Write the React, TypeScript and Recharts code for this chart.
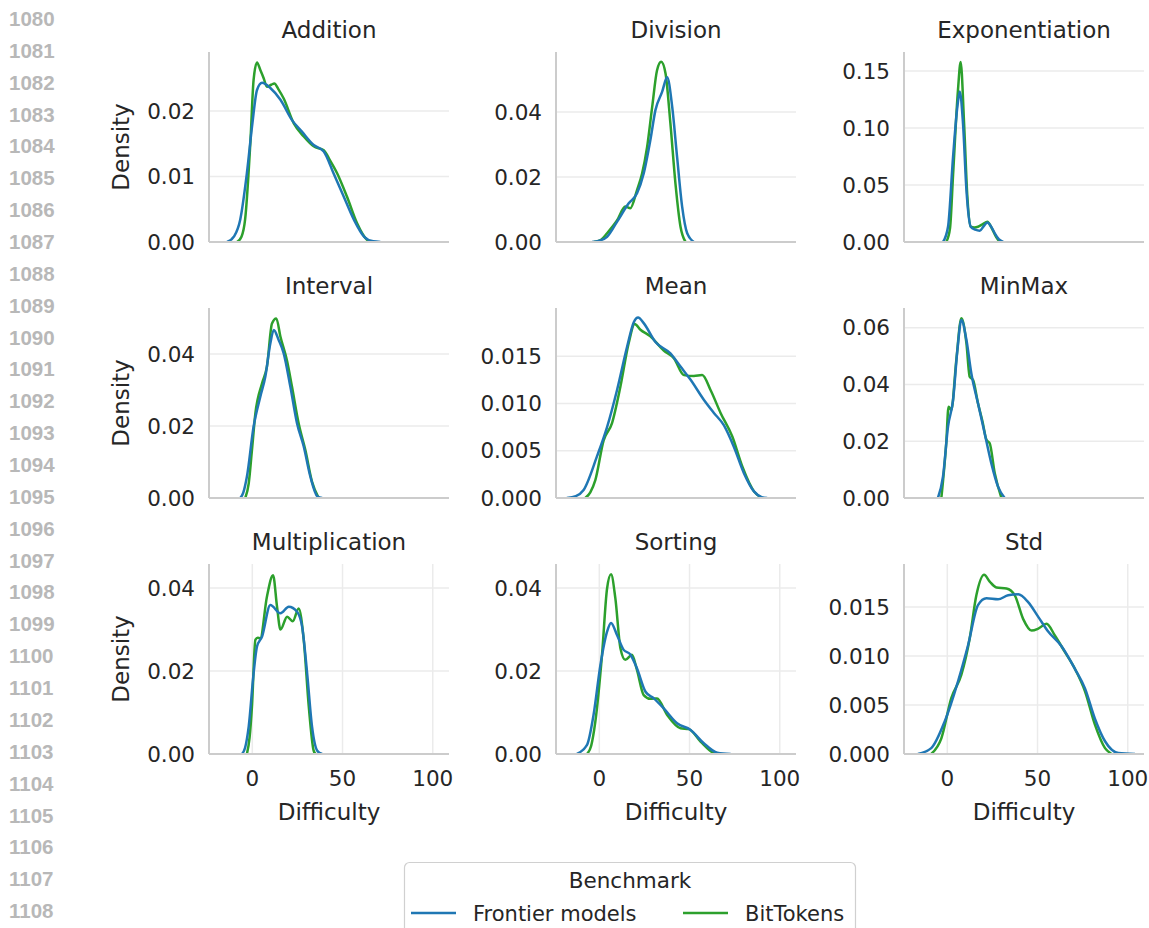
import React from "react";
import { LineChart, Line, XAxis, YAxis, CartesianGrid } from "recharts";

type Pt = [number, number];

// ---- data (x = Difficulty, y = Density) ----
const additionFrontier: Pt[] = [[-14,0],[-10,0.0009],[-6.7,0.0034],[-3,0.0105],[0,0.018],[2.6,0.0232],[5.4,0.0243],[10,0.0235],[15.6,0.0217],[22,0.0186],[27.6,0.0168],[34,0.0148],[39.6,0.0138],[45,0.0105],[50.7,0.0069],[56.3,0.0034],[62,0.0008],[67,0.0001],[71,0]];
const additionBit: Pt[] = [[-8.5,0],[-6,0.0008],[-4,0.0034],[-1,0.0156],[0.7,0.0247],[2.6,0.0274],[4.5,0.0262],[6.3,0.025],[8.1,0.0237],[10.5,0.024],[12.2,0.0242],[14.5,0.0233],[17.4,0.0219],[23,0.0181],[28.5,0.0161],[34,0.0146],[39.6,0.014],[43,0.0125],[47,0.0105],[52.5,0.0069],[58,0.0029],[63.7,0.0003],[66,0]];
const divisionFrontier: Pt[] = [[-4,0],[0,0.0004],[4.3,0.0016],[9.8,0.0062],[16.3,0.0119],[20.9,0.015],[24.6,0.0211],[28.3,0.0314],[31.1,0.0406],[34.8,0.0462],[37.6,0.0507],[40.4,0.0416],[43.1,0.0262],[45.9,0.0109],[48.7,0.0027],[52.4,0]];
const divisionBit: Pt[] = [[-3,0],[1,0.0007],[4.3,0.0027],[9.8,0.0066],[14.4,0.0109],[17.2,0.0104],[20.9,0.016],[23.7,0.0211],[26.5,0.0293],[29.3,0.0416],[32,0.0529],[34.3,0.0555],[36.7,0.0519],[39.4,0.0365],[42.2,0.018],[45,0.0047],[47.8,0]];
const expFrontier: Pt[] = [[-2.4,0],[0.4,0.0134],[3.2,0.075],[5.6,0.119],[6.9,0.132],[8.7,0.104],[10.6,0.0456],[13,0.0134],[15.5,0.0108],[18,0.0099],[20,0.0135],[22.2,0.017],[24.3,0.0135],[26.3,0.0076],[28.5,0.0025],[31,0]];
const expBit: Pt[] = [[-0.6,0],[1.5,0.012],[3.2,0.059],[5.9,0.133],[7.4,0.158],[9.3,0.104],[11.1,0.04],[13,0.0134],[15,0.0128],[17,0.0134],[19.5,0.0155],[22.2,0.0178],[24.5,0.0125],[27.2,0.004],[29,0]];
const intervalFrontier: Pt[] = [[-6.7,0],[-5,0.0015],[-3,0.0059],[0.7,0.0198],[4.4,0.0281],[7.2,0.0337],[10,0.043],[11.9,0.0467],[14.6,0.0439],[17.4,0.0402],[21.1,0.0309],[24.8,0.0207],[28.5,0.0143],[32.2,0.0059],[36,0.0005],[38.7,0]];
const intervalBit: Pt[] = [[-3.9,0],[-2,0.004],[-0.2,0.0133],[1.7,0.0235],[5.4,0.0319],[8.1,0.0365],[10.9,0.0485],[13.3,0.0499],[15.6,0.0448],[19.3,0.038],[22,0.0309],[25.7,0.0207],[29.4,0.0133],[33.1,0.0045],[36.8,0]];
const meanFrontier: Pt[] = [[-18,0],[-13,0.0002],[-8.7,0.00085],[-1.3,0.0044],[4.3,0.0075],[9.8,0.0114],[15.4,0.016],[19.1,0.0186],[21.5,0.0191],[24.6,0.0185],[31.1,0.0165],[39.4,0.0153],[45,0.0139],[50.6,0.0125],[57.9,0.0104],[63.5,0.009],[69,0.0077],[74.6,0.0054],[80.2,0.0026],[85.7,0.0007],[90,0.0001],[93,0]];
const meanBit: Pt[] = [[-7.8,0],[-5,0.0006],[-2.2,0.0019],[2.4,0.0061],[7,0.0079],[11.7,0.0118],[16.3,0.0164],[19.6,0.0184],[22.8,0.0178],[28.3,0.0171],[35.7,0.0156],[41.3,0.0148],[46.9,0.013],[52.4,0.0129],[57,0.013],[61.7,0.0114],[67.2,0.009],[73.7,0.0065],[79.3,0.0033],[85.7,0.0007],[90,0]];
const minmaxFrontier: Pt[] = [[-5.2,0],[-2.4,0.0075],[0.4,0.0252],[3.2,0.0346],[5.6,0.0522],[7.8,0.0628],[10.6,0.0557],[13.3,0.044],[17,0.0334],[20.7,0.0228],[24.4,0.0122],[28.1,0.004],[31.8,0]];
const minmaxBit: Pt[] = [[-3.3,0],[-0.6,0.0193],[0.7,0.0322],[2.2,0.031],[5,0.0487],[7.8,0.0634],[10.6,0.0545],[12.4,0.0428],[14.3,0.0416],[17,0.0334],[19.5,0.027],[21.7,0.0205],[23.5,0.0193],[26.3,0.0087],[30,0]];
const multFrontier: Pt[] = [[-5.7,0],[-4,0.0015],[-2,0.0066],[0.7,0.0194],[2.6,0.0259],[5.4,0.0283],[10,0.0359],[15.6,0.0339],[20.2,0.0355],[24.8,0.0343],[27.6,0.0307],[30.4,0.0194],[33.1,0.0066],[36,0.0008],[38.7,0]];
const multBit: Pt[] = [[-3,0],[-1.5,0.004],[-0.2,0.0114],[1.7,0.0275],[3,0.028],[4.4,0.0279],[8.1,0.0379],[11.5,0.0431],[13.7,0.0355],[15.6,0.03],[19.3,0.0331],[22.4,0.032],[25.7,0.0351],[28.5,0.0275],[31.3,0.0114],[34,0.0008],[35,0]];
const sortingFrontier: Pt[] = [[-12.4,0],[-6.8,0.0022],[-3.2,0.0094],[0.6,0.0214],[4.3,0.0295],[6.5,0.0316],[9.8,0.0287],[13.5,0.0251],[17.2,0.024],[20.9,0.0206],[25.6,0.015],[30.2,0.0134],[35.7,0.011],[43.1,0.0074],[50.6,0.0058],[57.9,0.0026],[65.4,0.0003],[72.8,0]];
const sortingBit: Pt[] = [[-6.8,0],[-4.5,0.002],[-2.2,0.0078],[1.5,0.0239],[4.3,0.0399],[6.5,0.0433],[8.9,0.0375],[11.7,0.0255],[14.4,0.0227],[18.1,0.0239],[20.9,0.0202],[24.6,0.0142],[28.3,0.0133],[32,0.0134],[37.6,0.0094],[45,0.0062],[49.6,0.006],[56.1,0.003],[63.5,0.0002],[65.4,0]];
const stdFrontier: Pt[] = [[-16.3,0],[-8.9,0.0006],[-1.5,0.0033],[5.9,0.0074],[11.5,0.0111],[17,0.0152],[21.7,0.0159],[28.1,0.0158],[33.7,0.0162],[39.3,0.0163],[44.8,0.0155],[50.4,0.014],[55.9,0.0125],[63.3,0.011],[70.7,0.0087],[76.3,0.0067],[81.8,0.0036],[87.4,0.0013],[94.8,0.0001],[104,0]];
const stdBit: Pt[] = [[-8.9,0],[-3.3,0.0016],[2.2,0.0057],[7.8,0.0081],[12.4,0.0118],[16.1,0.0162],[20.4,0.0183],[23.5,0.0176],[27.2,0.017],[32.8,0.0169],[37.4,0.0162],[42,0.0138],[46.7,0.0126],[50.4,0.0128],[55,0.0133],[59.6,0.0121],[65.2,0.0104],[70.7,0.0087],[76.3,0.0064],[81.8,0.003],[87.4,0.0006],[91,0]];

const panelTitles = ["Addition","Division","Exponentiation","Interval","Mean","MinMax","Multiplication","Sorting","Std"];
const frontierSeries = [additionFrontier, divisionFrontier, expFrontier, intervalFrontier, meanFrontier, minmaxFrontier, multFrontier, sortingFrontier, stdFrontier];
const bitSeries = [additionBit, divisionBit, expBit, intervalBit, meanBit, minmaxBit, multBit, sortingBit, stdBit];
const yTicks = [
  [0, 0.01, 0.02],
  [0, 0.02, 0.04],
  [0, 0.05, 0.1, 0.15],
  [0, 0.02, 0.04],
  [0, 0.005, 0.01, 0.015],
  [0, 0.02, 0.04, 0.06],
  [0, 0.02, 0.04],
  [0, 0.02, 0.04],
  [0, 0.005, 0.01, 0.015],
];
const yMax = [0.029, 0.0585, 0.1667, 0.0528, 0.0201, 0.067, 0.0458, 0.0458, 0.0194];
const yDecimals = [2, 2, 2, 2, 3, 2, 2, 2, 3];
const xTicks = [0, 50, 100];
const xDomain = [-24, 109];
const seriesNames = ["Frontier models", "BitTokens"];
const lineNumbers = Array.from({ length: 29 }, (_, i) => String(1080 + i));

const BLUE = "#1f77b4";
const GREEN = "#2ca02c";
const FONT = "'DejaVu Sans', sans-serif";
const TXT = "#262626";

const COL_LEFT = [209, 556, 904];
const ROW_TOP = [52, 308, 564];
const PW = 240;
const PH = 190;

const toObj = (a: Pt[]) => a.map(([x, y]) => ({ x, y }));

function Panel({ i }: { i: number }) {
  const col = i % 3;
  const row = Math.floor(i / 3);
  const left = COL_LEFT[col] - 100;
  const top = ROW_TOP[row] - 50;
  const bottom = row === 2;
  return (
    <div style={{ position: "absolute", left, top }}>
      <LineChart width={350} height={300} margin={{ top: 50, right: 10, bottom: 0, left: 0 }}>
        <CartesianGrid stroke="#ebebeb" strokeWidth={1.5} syncWithTicks />
        <XAxis
          dataKey="x"
          type="number"
          domain={xDomain}
          ticks={xTicks}
          allowDataOverflow
          height={60}
          tickLine={false}
          tickSize={0}
          tickMargin={17}
          tick={bottom ? { fill: TXT, fontSize: 21.5, fontFamily: FONT } : false}
          axisLine={{ stroke: "#cccccc", strokeWidth: 2 }}
        />
        <YAxis
          type="number"
          domain={[0, yMax[i]]}
          ticks={yTicks[i]}
          allowDataOverflow
          width={100}
          tickLine={false}
          tickSize={0}
          tickMargin={14}
          tickFormatter={(v: number) => v.toFixed(yDecimals[i])}
          tick={{ fill: TXT, fontSize: 21.5, fontFamily: FONT }}
          axisLine={{ stroke: "#cccccc", strokeWidth: 2 }}
        />
        <Line data={toObj(bitSeries[i])} dataKey="y" name={seriesNames[1]} type="monotone" stroke={GREEN} strokeWidth={2.5} dot={false} activeDot={false} isAnimationActive={false} />
        <Line data={toObj(frontierSeries[i])} dataKey="y" name={seriesNames[0]} type="monotone" stroke={BLUE} strokeWidth={2.5} dot={false} activeDot={false} isAnimationActive={false} />
      </LineChart>
    </div>
  );
}

export default function App() {
  return (
    <div style={{ position: "absolute", left: 0, top: 0, width: 1149, height: 928, background: "#fff", overflow: "hidden" }}>
      {panelTitles.map((_, i) => <Panel key={i} i={i} />)}
      <svg width={1149} height={928} style={{ position: "absolute", left: 0, top: 0, pointerEvents: "none" }}>
        {lineNumbers.map((n, k) => (
          <text key={n} x={9} y={26 + k * 31.86} fontFamily="'Liberation Sans', Arial, sans-serif" fontWeight="bold" fontSize={20.5} fill="#b8b8b8">{n}</text>
        ))}
        {panelTitles.map((t, i) => {
          const col = i % 3, row = Math.floor(i / 3);
          return (
            <text key={t} x={COL_LEFT[col] + PW / 2} y={ROW_TOP[row] - 14} textAnchor="middle" fontFamily={FONT} fontSize={23} fill={TXT}>{t}</text>
          );
        })}
        {[0, 1, 2].map((row) => {
          const cy = ROW_TOP[row] + PH / 2;
          return (
            <text key={"d" + row} x={129} y={cy} transform={`rotate(-90 129 ${cy})`} textAnchor="middle" fontFamily={FONT} fontSize={23} fill={TXT}>Density</text>
          );
        })}
        {[0, 1, 2].map((col) => (
          <text key={"x" + col} x={COL_LEFT[col] + PW / 2} y={820} textAnchor="middle" fontFamily={FONT} fontSize={23} fill={TXT}>Difficulty</text>
        ))}
        <rect x={404.5} y={862.5} width={451} height={90} rx={5} fill="#fff" stroke="#d0d0d0" strokeWidth={1.2} />
        <text x={630} y={888} textAnchor="middle" fontFamily={FONT} fontSize={21.5} fill={TXT}>Benchmark</text>
        <line x1={411} x2={456} y1={913} y2={913} stroke={BLUE} strokeWidth={2.5} />
        <text x={473} y={921} fontFamily={FONT} fontSize={21} fill={TXT}>{seriesNames[0]}</text>
        <line x1={683} x2={728} y1={913} y2={913} stroke={GREEN} strokeWidth={2.5} />
        <text x={745} y={921} fontFamily={FONT} fontSize={21} fill={TXT}>{seriesNames[1]}</text>
      </svg>
    </div>
  );
}
